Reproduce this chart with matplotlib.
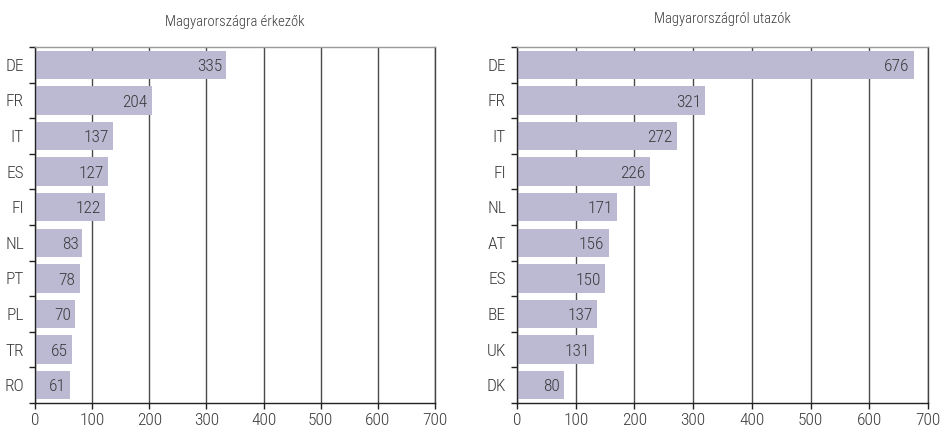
import matplotlib
matplotlib.use("Agg")
import matplotlib.pyplot as plt
from matplotlib import font_manager

# -------------------------
# Data
# -------------------------
arrivals_countries = ["DE", "FR", "IT", "ES", "FI", "NL", "PT", "PL", "TR", "RO"]
arrivals_values = [335, 204, 137, 127, 122, 83, 78, 70, 65, 61]

departures_countries = ["DE", "FR", "IT", "FI", "NL", "AT", "ES", "BE", "UK", "DK"]
departures_values = [676, 321, 272, 226, 171, 156, 150, 137, 131, 80]

x_ticks = [0, 100, 200, 300, 400, 500, 600, 700]

BAR_COLOR = "#bcbad3"
TEXT_COLOR = "#3a3a3a"
GRID_COLOR = "#4a4a4a"

# pick a narrow font if one is around
fonts = font_manager.fontManager.ttflist
condensed = [f.name for f in fonts
             if "condensed" in str(f.stretch) or "Narrow" in f.name or "Condensed" in f.name]
candidates = ["Roboto Condensed", "Liberation Sans Narrow", "Open Sans Condensed"]
family = None
for c in candidates:
    if c in condensed:
        family = c
        break
stretch = "normal"
if family is None and "DejaVu Sans" in condensed:
    family, stretch = "DejaVu Sans", "condensed"
if family is None:
    family = "Roboto"
plt.rcParams["font.family"] = [family, "DejaVu Sans"]
plt.rcParams["font.stretch"] = stretch
plt.rcParams["font.weight"] = "light"
LABEL_SIZE = 12.5 if family != "Roboto" else 11.5


# -------------------------
# Plot one panel
# -------------------------
def draw_panel(ax, countries, values, title, title_y):
    pos = list(range(len(countries)))
    ax.barh(pos, values, height=0.8, color=BAR_COLOR, zorder=2)
    ax.set_ylim(len(countries) - 0.5, -0.5)
    ax.set_xlim(0, 700)

    for p, v in zip(pos, values):
        ax.text(v - 7, p + 0.05, str(v), ha="right", va="center",
                fontsize=LABEL_SIZE, color=TEXT_COLOR, zorder=3)

    ax.set_xticks(x_ticks)
    ax.set_xticklabels([str(t) for t in x_ticks], fontsize=LABEL_SIZE, color=TEXT_COLOR)
    ax.set_yticks(pos)
    ax.set_yticklabels(countries, fontsize=LABEL_SIZE, color=TEXT_COLOR)
    ax.tick_params(axis="y", length=0, pad=8)
    ax.tick_params(axis="x", length=4, width=1, color="#222222", pad=3)

    # small ticks between categories
    ax.set_yticks([p - 0.5 for p in pos] + [len(pos) - 0.5], minor=True)
    ax.tick_params(axis="y", which="minor", length=4, width=1, color="#222222")

    ax.grid(axis="x", color=GRID_COLOR, linewidth=1, zorder=1)
    ax.set_axisbelow(True)
    ax.spines["top"].set_color("#999999")
    ax.spines["right"].set_color("#444444")
    ax.spines["left"].set_color("#222222")
    ax.spines["bottom"].set_color("#222222")
    for s in ax.spines.values():
        s.set_linewidth(1)

    box = ax.get_position()
    ax.figure.text((box.x0 + box.x1) / 2, title_y, title, ha="center", va="center",
                   fontsize=10.5, color=TEXT_COLOR)


fig = plt.figure(figsize=(9.44, 4.33), dpi=100)
ax1 = fig.add_axes([35 / 944, 30 / 433, 400 / 944, 356 / 433])
ax2 = fig.add_axes([517 / 944, 30 / 433, 411 / 944, 356 / 433])

draw_panel(ax1, arrivals_countries, arrivals_values, "Magyarországra érkezők", 1 - 22 / 433)
draw_panel(ax2, departures_countries, departures_values, "Magyarországról utazók", 1 - 19 / 433)

fig.savefig("out.png", dpi=100)
